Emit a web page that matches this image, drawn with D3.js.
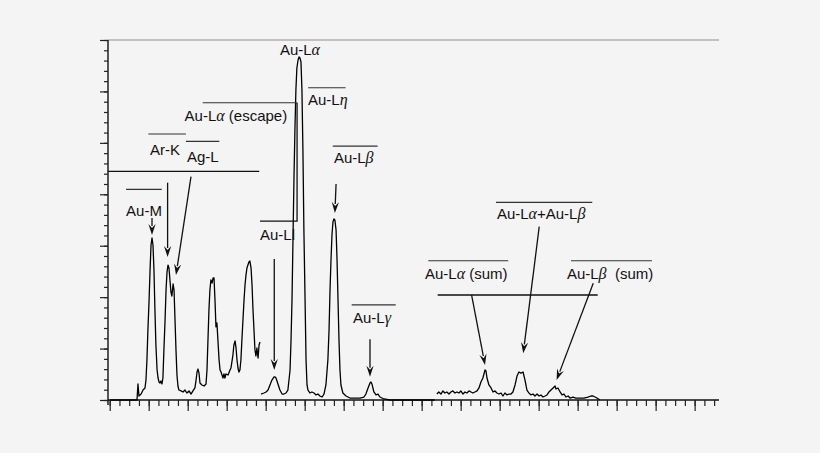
<!DOCTYPE html>
<html><head><meta charset="utf-8">
<script src="https://cdn.jsdelivr.net/npm/d3@7"></script>
<style>
html,body{margin:0;padding:0;background:#f4f4f4;}
svg{display:block;}
text{font-family:"Liberation Sans",Arial,sans-serif;font-size:15px;fill:#111;}
.gr{font-family:"Liberation Serif","Times New Roman",serif;font-style:italic;font-size:16px;}
</style></head><body>
<svg id="c" width="820" height="453"></svg>
<script>
// Energy (keV) and intensity (arb. units)
const energyA = [0.02,1.40,1.45,1.50,1.61,1.71,1.81,1.86,1.91,1.96,2.02,2.07,2.12,2.17,2.22,2.27,2.32,2.37,2.43,2.48,2.53,2.58,2.63,2.68,2.73,2.78,2.84,2.89,2.94,2.99,3.04,3.09,3.14,3.19,3.25,3.30,3.35,3.40,3.45,3.50,3.55,3.66,3.76,3.86,3.96,4.07,4.17,4.27,4.37,4.43,4.48,4.53,4.58,4.63,4.73,4.84,4.94,4.99,5.04,5.09,5.14,5.19,5.25,5.30,5.35,5.40,5.45,5.50,5.55,5.61,5.66,5.71,5.76,5.81,5.86,5.91,5.96,6.07,6.17,6.22,6.32,6.37,6.43,6.48,6.53,6.58,6.63,6.68,6.73,6.78,6.84,6.89,6.94,6.99,7.04,7.09,7.14,7.19,7.25,7.30,7.35,7.40,7.45,7.50,7.55,7.61,7.66,7.71];
const countsA = [0,0,1.56,0.39,0.58,0.97,1.17,1.94,3.89,6.81,9.72,12.64,15.07,15.75,15.07,12.64,8.75,5.35,2.92,2.14,1.75,1.65,1.85,1.56,2.14,4.86,7.78,10.69,12.44,13.12,12.83,11.67,10.50,10.11,11.28,10.69,7.78,4.86,2.43,1.36,0.97,0.88,0.78,0.97,0.68,0.88,0.58,0.88,1.17,1.94,2.72,3.01,2.62,1.65,1.46,1.36,1.56,2.92,5.83,8.75,10.69,11.67,11.37,11.86,11.86,9.72,7.10,7.49,5.83,3.89,2.92,2.72,2.43,2.14,2.53,2.14,2.53,2.43,2.92,3.11,4.37,5.35,5.74,5.06,3.89,3.11,2.72,2.92,3.89,5.83,7.97,9.72,11.18,12.15,12.83,13.12,13.42,13.51,12.83,11.18,8.75,6.81,4.86,4.28,5.06,4.08,5.35,5.64];

const energyB = [7.76,7.91,8.02,8.12,8.22,8.32,8.43,8.48,8.53,8.63,8.73,8.84,8.94,9.04,9.14,9.25,9.30,9.35,9.40,9.45,9.50,9.55,9.60,9.66,9.71,9.76,9.81,9.86,9.91,9.96,10.02,10.07,10.12,10.17,10.27,10.37,10.48,10.58,10.68,10.78,10.89,10.99,11.09,11.19,11.25,11.30,11.35,11.40,11.45,11.50,11.55,11.61,11.66,11.71,11.76,11.81,11.86,11.96,12.12,12.32,12.58,12.84,13.04,13.14,13.25,13.35,13.40,13.45,13.55,13.66,13.76,13.86,14.07,14.37,14.89,16.68];
const countsB = [0.58,0.68,0.78,0.97,1.46,1.94,2.24,2.24,2.14,1.56,0.97,0.58,0.58,0.68,0.97,2.92,5.83,9.72,15.56,21.39,26.25,30.14,32.28,33.05,33.35,33.25,32.86,30.14,24.31,16.53,9.72,3.89,1.46,0.97,0.68,0.78,0.68,0.49,0.58,0.39,0.29,0.58,1.46,3.89,6.81,10.69,13.61,16.04,17.31,17.60,17.50,16.53,13.61,9.72,5.83,2.92,1.46,0.68,0.39,0.19,0.19,0.19,0.29,0.58,1.17,1.65,1.75,1.56,0.78,0.49,0.58,0.29,0.10,0,0,0];

const energyC = [16.78,16.88,16.99,17.09,17.19,17.29,17.40,17.50,17.60,17.71,17.81,17.91,18.01,18.12,18.22,18.32,18.43,18.53,18.63,18.73,18.84,18.94,19.04,19.14,19.25,19.30,19.35,19.45,19.56,19.66,19.76,19.86,19.97,20.07,20.17,20.27,20.38,20.48,20.58,20.68,20.79,20.89,20.99,21.09,21.20,21.30,21.40,21.50,21.61,21.71,21.81,21.92,22.02,22.12,22.22,22.33,22.43,22.53,22.63,22.74,22.84,22.89,22.99,23.10,23.20,23.30,23.40,23.51,23.61,23.76,23.91,24.12,24.32,24.53,24.68,24.79,24.89,24.99,25.14];
const countsC = [0.58,0.78,0.58,0.88,0.68,0.78,0.58,0.78,0.88,0.68,0.78,0.68,0.88,0.58,0.78,0.68,0.88,0.78,0.68,0.78,0.88,1.17,1.75,2.14,2.92,2.82,2.14,1.46,1.17,0.78,0.88,0.68,0.58,0.68,0.39,0.68,0.49,0.58,0.58,0.78,1.46,2.33,2.72,2.62,2.72,1.94,0.97,0.68,0.49,0.58,0.39,0.58,0.39,0.49,0.29,0.39,0.49,0.78,0.97,1.17,1.36,1.07,1.17,0.78,0.49,0.58,0.29,0.39,0.19,0.29,0.19,0.19,0.19,0.29,0.39,0.39,0.29,0.19,0];

const xMajorTicks = d3.range(0, 31, 2);
const xMinorTicks = d3.range(0, 31.01, 0.5);
const yMajorTicks = d3.range(0, 35.01, 5);
const yMinorTicks = d3.range(0, 35.01, 1);

// Peak labels: text, greek part, label anchor (keV, intensity)
const labelText  = ["Au-L", "Au-L", "Au-L", "Ar-K", "Ag-L", "Au-M", "Au-L", "Au-Ll", "Au-L", "Au-L", "Au-L", "Au-L"];
const labelGreek = ["α", "α", "η", "", "", "", "β", "", "γ", "α+Au-L|β", "α", "β"];
const labelTail  = ["", " (escape)", "", "", "", "", "", "", "", "", " (sum)", "  (sum)"];
const labelX     = [8.73, 3.84, 10.17, 2.07, 3.96, 0.84, 11.50, 7.71, 12.48, 19.86, 16.17, 23.45];
const labelY     = [33.54, 27.12, 28.68, 23.82, 23.17, 17.92, 23.01, 15.56, 7.46, 17.57, 11.73, 11.73];
// overlines: [x0, x1, y]
const overlines = [[4.77,9.61,28.90],[10.18,12.10,30.36],[1.98,3.91,25.86],[3.91,5.62,25.15],[0.84,2.67,20.48],[11.44,13.74,24.69],[12.41,14.67,9.24],[19.81,24.75,19.22],[16.34,20.44,13.54],[23.66,27.81,13.54]];
// connector lines: polyline points
const connectors = [[[-0.09,22.23],[7.67,22.23]], [[16.82,10.21],[25.03,10.21]], [[9.61,28.90],[9.61,17.40],[7.71,17.40]]];
// arrows: [fromX, fromY, toX, toY]
const arrows = [[2.17,17.69,2.17,16.04],[2.97,21.13,2.97,13.90],[4.17,21.71,3.40,12.15],[8.44,13.71,8.44,2.92],[11.61,21.0,11.55,18.18],[13.35,5.90,13.35,2.27],[18.56,10.21,19.25,3.40],[22.03,16.85,21.21,4.54],[24.80,11.35,22.92,1.94]];

const svg = d3.select("#c");
const x = d3.scaleLinear().domain([0, 31.25]).range([109.7, 719]);
const y = d3.scaleLinear().domain([0, 35]).range([400, 40]);
const axisLeftX = 108;

// top frame line
svg.append("line").attr("x1", axisLeftX).attr("x2", x(31.25)).attr("y1", y(35)).attr("y2", y(35))
  .attr("stroke", "#b0b0b0").attr("stroke-width", 1.5);

// y axis
const gy1 = svg.append("g").attr("transform", `translate(${axisLeftX},0)`)
  .call(d3.axisLeft(y).tickValues(yMinorTicks).tickSize(4).tickFormat(""));
const gy2 = svg.append("g").attr("transform", `translate(${axisLeftX},0)`)
  .call(d3.axisLeft(y).tickValues(yMajorTicks).tickSize(8).tickFormat(""));
gy2.select(".domain").remove();
gy1.select(".domain").attr("d", `M0,${y(35)}V${y(0)+5}`);
// x axis
const gx1 = svg.append("g").attr("transform", `translate(0,${y(0)})`)
  .call(d3.axisBottom(x).tickValues(xMinorTicks).tickSize(6).tickFormat(""));
const gx2 = svg.append("g").attr("transform", `translate(0,${y(0)})`)
  .call(d3.axisBottom(x).tickValues(xMajorTicks).tickSize(11).tickFormat(""));
gx2.select(".domain").remove();
gx1.select(".domain").attr("d", `M${axisLeftX},0H${x(31.25)}`);
svg.selectAll(".tick line").attr("stroke", "#222").attr("stroke-width", 1.2);
svg.selectAll(".domain").attr("stroke", "#111").attr("stroke-width", 1.4);

// spectrum
const line = d3.line().x(d => x(d[0])).y(d => y(d[1]));
[[energyA, countsA], [energyB, countsB], [energyC, countsC]].forEach(([e, c]) => {
  svg.append("path").datum(d3.zip(e, c)).attr("d", line)
    .attr("fill", "none").attr("stroke", "#000").attr("stroke-width", 1.3).attr("stroke-linejoin", "round");
});

// overlines
svg.selectAll(".ov").data(overlines).join("line")
  .attr("x1", d => x(d[0])).attr("x2", d => x(d[1])).attr("y1", d => y(d[2])).attr("y2", d => y(d[2]))
  .attr("stroke", "#333").attr("stroke-width", 1.2);
// connectors
connectors.forEach(pts => {
  svg.append("path").attr("d", d3.line().x(d => x(d[0])).y(d => y(d[1]))(pts))
    .attr("fill", "none").attr("stroke", "#111").attr("stroke-width", 1.3);
});
// arrows
arrows.forEach(([a, b, c, d]) => {
  const x0 = x(a), y0 = y(b), x1 = x(c), y1 = y(d);
  const ang = Math.atan2(y1 - y0, x1 - x0);
  const L = 11, W = 3.6;
  const bx = x1 - L * Math.cos(ang), by = y1 - L * Math.sin(ang);
  svg.append("line").attr("x1", x0).attr("y1", y0).attr("x2", bx + 2*Math.cos(ang)).attr("y2", by + 2*Math.sin(ang))
    .attr("stroke", "#111").attr("stroke-width", 1.3);
  const px = -Math.sin(ang) * W, py = Math.cos(ang) * W;
  const nx = x1 - 7 * Math.cos(ang), ny = y1 - 7 * Math.sin(ang);
  svg.append("path").attr("d", `M${x1},${y1}L${bx+px},${by+py}L${nx},${ny}L${bx-px},${by-py}Z`).attr("fill", "#111");
});
// labels
labelText.forEach((t, i) => {
  const tx = svg.append("text").attr("x", x(labelX[i])).attr("y", y(labelY[i]));
  tx.append("tspan").text(t);
  const g = labelGreek[i];
  if (g.includes("|")) {
    const [p1, p2] = g.split("|");
    tx.append("tspan").attr("class", "gr").text(p1[0]);
    tx.append("tspan").text(p1.slice(1));
    tx.append("tspan").attr("class", "gr").text(p2);
  } else if (g) {
    tx.append("tspan").attr("class", "gr").text(g);
  }
  if (labelTail[i]) tx.append("tspan").attr("xml:space", "preserve").style("white-space", "pre").text(labelTail[i]);
});
</script>
</body></html>
